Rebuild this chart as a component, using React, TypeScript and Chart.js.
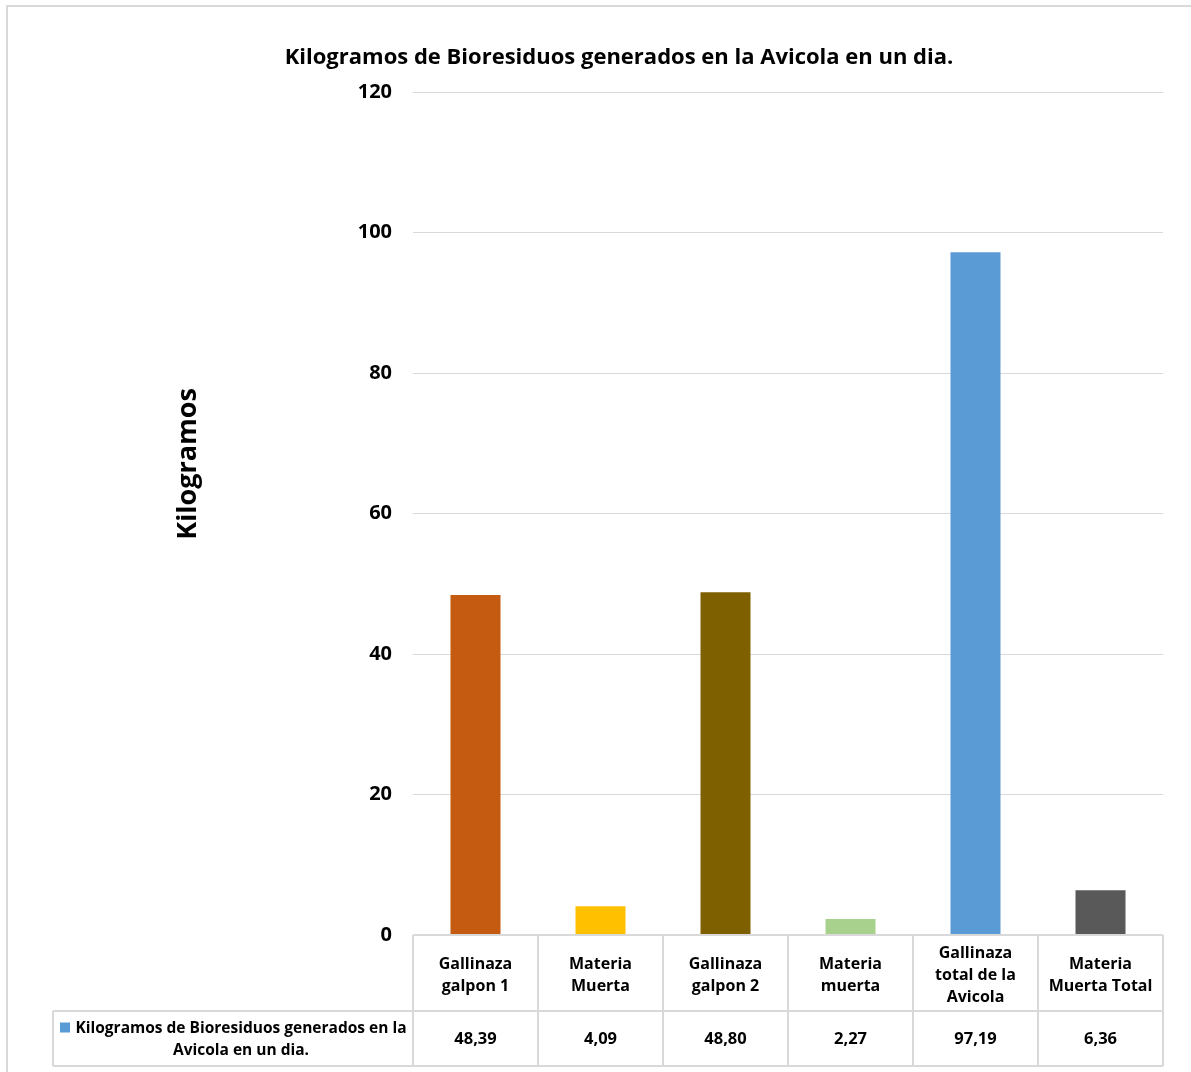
import { useEffect, useRef } from "react";
import { Chart, registerables } from "chart.js";

Chart.register(...registerables);

// Category labels (split into the lines shown in the data table)
const categories: string[][] = [
  ["Gallinaza", "galpon 1"],
  ["Materia", "Muerta"],
  ["Gallinaza", "galpon 2"],
  ["Materia", "muerta"],
  ["Gallinaza", "total de la", "Avicola"],
  ["Materia", "Muerta Total"],
];

// Kilograms of bio-waste per category in one day
const kilograms: number[] = [48.39, 4.09, 48.8, 2.27, 97.19, 6.36];

const barColors: string[] = ["#C55A11", "#FFC000", "#7F6000", "#A9D18E", "#5B9BD5", "#595959"];

const seriesName = "Kilogramos de Bioresiduos generados en la Avicola en un dia.";
const seriesNameLines: string[] = ["Kilogramos de Bioresiduos generados en la", "Avicola en un dia."];
const chartTitle = "Kilogramos de Bioresiduos generados en la Avicola en un dia.";
const yAxisTitle = "Kilogramos";
const yMin = 0;
const yMax = 120;
const yStep = 20;

const FONT = "'Open Sans', Lato, sans-serif";
const LINE = "#d9d9d9";
const legendColor = "#5B9BD5";

const formatValue = (v: number) => v.toFixed(2).replace(".", ",");

// Draws the frame, title, axis title and the data table below the bars
const decorPlugin = {
  id: "decor",
  afterDraw(chart: any) {
    const { ctx, chartArea, scales } = chart;
    const xs = scales.x;
    const n = categories.length;
    const tableTop = chartArea.bottom;
    const row1Bottom = tableTop + 76;
    const row2Bottom = xs.bottom;
    const legendLeft = 53;

    ctx.save();

    // outer frame
    ctx.strokeStyle = LINE;
    ctx.lineWidth = 2;
    ctx.strokeRect(7, 6, 1400, 1400);

    // title
    ctx.fillStyle = "#000";
    ctx.font = `bold 22px ${FONT}`;
    ctx.textAlign = "center";
    ctx.textBaseline = "middle";
    ctx.fillText(chartTitle, 619, 58);

    // y axis title
    ctx.save();
    ctx.translate(188, 464);
    ctx.rotate(-Math.PI / 2);
    ctx.font = `bold 27px ${FONT}`;
    ctx.fillText(yAxisTitle, 0, 0);
    ctx.restore();

    // table grid
    const bounds: number[] = [chartArea.left];
    for (let i = 1; i < n; i++) {
      bounds.push((xs.getPixelForValue(i - 1) + xs.getPixelForValue(i)) / 2);
    }
    bounds.push(chartArea.right);

    ctx.strokeStyle = LINE;
    ctx.lineWidth = 2;
    ctx.beginPath();
    ctx.moveTo(chartArea.left, tableTop);
    ctx.lineTo(chartArea.right, tableTop);
    ctx.moveTo(legendLeft, row1Bottom);
    ctx.lineTo(chartArea.right, row1Bottom);
    ctx.moveTo(legendLeft, row2Bottom);
    ctx.lineTo(chartArea.right, row2Bottom);
    ctx.moveTo(legendLeft, row1Bottom);
    ctx.lineTo(legendLeft, row2Bottom);
    for (const b of bounds) {
      ctx.moveTo(b, tableTop);
      ctx.lineTo(b, row2Bottom);
    }
    ctx.stroke();

    // values row
    const rowMid = (row1Bottom + row2Bottom) / 2;
    ctx.font = `bold 16.5px ${FONT}`;
    ctx.fillStyle = "#000";
    ctx.textAlign = "center";
    ctx.textBaseline = "middle";
    kilograms.forEach((v, i) => {
      ctx.fillText(formatValue(v), xs.getPixelForValue(i), rowMid + 1);
    });

    // legend key cell
    ctx.fillStyle = legendColor;
    ctx.fillRect(60, rowMid - 16, 10, 10);
    ctx.fillStyle = "#000";
    ctx.font = `bold 15.5px ${FONT}`;
    seriesNameLines.forEach((line, i) => {
      ctx.fillText(line, 241, rowMid - 10 + i * 22);
    });

    ctx.restore();
  },
};

export default function App() {
  const canvasRef = useRef<HTMLCanvasElement | null>(null);

  useEffect(() => {
    if (!canvasRef.current) return;
    const chart = new Chart(canvasRef.current, {
      type: "bar",
      data: {
        labels: categories,
        datasets: [
          {
            label: seriesName,
            data: kilograms,
            backgroundColor: barColors,
            barPercentage: 0.4,
            categoryPercentage: 1,
          },
        ],
      },
      options: {
        responsive: false,
        animation: false,
        layout: { padding: { top: 92, right: 28, bottom: 6, left: 0 } },
        plugins: {
          legend: { display: false },
          title: { display: false },
          tooltip: { enabled: false },
        },
        scales: {
          x: {
            grid: { display: false, drawTicks: false },
            border: { display: false },
            ticks: {
              color: "#000",
              font: { family: FONT, size: 16, weight: "bold", lineHeight: 1.4 },
              crossAlign: "center",
              padding: 18,
              maxRotation: 0,
              autoSkip: false,
            },
            afterFit: (s: any) => {
              s.height = 131;
            },
          },
          y: {
            min: yMin,
            max: yMax,
            grid: { color: LINE, lineWidth: 1, drawTicks: false },
            border: { display: false },
            ticks: {
              stepSize: yStep,
              color: "#000",
              font: { family: FONT, size: 20, weight: "bold" },
              padding: 21,
            },
            afterFit: (s: any) => {
              s.width = 413;
            },
          },
        },
      },
      plugins: [decorPlugin],
    });
    return () => chart.destroy();
  }, []);

  return (
    <div style={{ position: "absolute", left: 0, top: 0, width: 1191, height: 1072, background: "#fff" }}>
      <canvas ref={canvasRef} width={1191} height={1072} />
    </div>
  );
}
